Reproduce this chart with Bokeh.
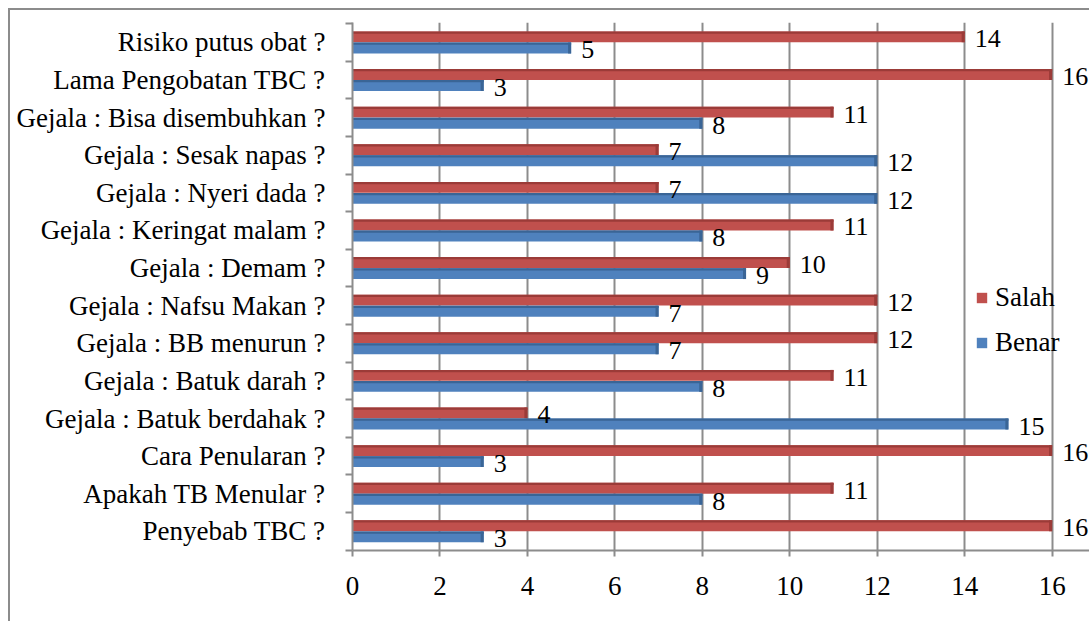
from bokeh.plotting import figure
from bokeh.models import Range1d, FixedTicker, Legend, LegendItem, ColumnDataSource, Spacer
from bokeh.layouts import column, row
from bokeh.embed import file_html
from bokeh.resources import INLINE

# Data (top to bottom as in the chart)
categories = [
    "Risiko putus obat ?",
    "Lama Pengobatan TBC ?",
    "Gejala : Bisa disembuhkan ?",
    "Gejala : Sesak napas ?",
    "Gejala : Nyeri dada ?",
    "Gejala : Keringat malam ?",
    "Gejala : Demam ?",
    "Gejala : Nafsu Makan ?",
    "Gejala : BB menurun ?",
    "Gejala : Batuk darah ?",
    "Gejala : Batuk berdahak ?",
    "Cara Penularan ?",
    "Apakah TB Menular ?",
    "Penyebab TBC ?",
]
salah = [14, 16, 11, 7, 7, 11, 10, 12, 12, 11, 4, 16, 11, 16]
benar = [5, 3, 8, 12, 12, 8, 9, 7, 7, 8, 15, 3, 8, 3]
x_ticks = [0, 2, 4, 6, 8, 10, 12, 14, 16]

RED = "#C0504D"
RED_D = "#9B3B38"
BLUE = "#4F81BD"
BLUE_D = "#3A6596"
GRID = "#8c8c8c"
FONT = "Liberation Serif"
FS = "27px"
FS_VAL = "26px"

n = len(categories)
# bottom category gets index 0
ypos = [n - 1 - i for i in range(n)]

off = 0.147
h = 0.29
src = ColumnDataSource(dict(
    y=ypos,
    ys=[y + off for y in ypos],
    yb=[y - off for y in ypos],
    ys_top=[y + off + h / 2 - 0.03 for y in ypos],
    yb_top=[y - off + h / 2 - 0.03 for y in ypos],
    salah=salah,
    benar=benar,
    salah_c=[v - 0.07 for v in salah],
    benar_c=[v - 0.07 for v in benar],
    salah_t=[str(v) for v in salah],
    benar_t=[str(v) for v in benar],
))

p = figure(width=1081, height=613, output_backend="svg", toolbar_location=None,
           x_range=Range1d(0, 16.9), y_range=Range1d(-0.51, 13.53),
           min_border_left=342, min_border_top=12, min_border_bottom=73,
           min_border_right=0)
p.styles = {"border-left": "2px solid #8c8c8c", "border-top": "2px solid #8c8c8c"}
p.outline_line_color = None
p.background_fill_color = "white"
p.border_fill_color = "white"

# bars
r_s = p.hbar(y="ys", left=0, right="salah", height=h, source=src,
             fill_color=RED, line_color=None)
p.hbar(y="ys_top", left=0, right="salah", height=0.06, source=src,
       fill_color=RED_D, line_color=None)
p.hbar(y="ys", left="salah_c", right="salah", height=h, source=src,
       fill_color=RED_D, line_color=None)
r_b = p.hbar(y="yb", left=0, right="benar", height=h, source=src,
             fill_color=BLUE, line_color=None)
p.hbar(y="yb_top", left=0, right="benar", height=0.06, source=src,
       fill_color=BLUE_D, line_color=None)
p.hbar(y="yb", left="benar_c", right="benar", height=h, source=src,
       fill_color=BLUE_D, line_color=None)

# value labels
p.text(x="salah", y="ys", text="salah_t", source=src, x_offset=10, y_offset=2,
       text_font={"value": FONT}, text_font_size=FS_VAL,
       text_baseline="middle", text_align="left", text_color="black")
p.text(x="benar", y="yb", text="benar_t", source=src, x_offset=10, y_offset=2,
       text_font={"value": FONT}, text_font_size=FS_VAL,
       text_baseline="middle", text_align="left", text_color="black")

# axes
p.xaxis.ticker = FixedTicker(ticks=x_ticks)
p.xaxis.axis_line_color = GRID
p.xaxis.axis_line_width = 2
p.xaxis.major_tick_line_color = GRID
p.xaxis.major_tick_line_width = 2
p.xaxis.major_tick_out = 6
p.xaxis.major_tick_in = 0
p.xaxis.minor_tick_line_color = None
p.xaxis.major_label_text_font = FONT
p.xaxis.major_label_text_font_size = FS
p.xaxis.major_label_text_color = "black"
p.xaxis.major_label_standoff = 20

p.yaxis.ticker = FixedTicker(ticks=ypos, minor_ticks=[i - 0.5 for i in range(n + 1)])
p.yaxis.major_label_overrides = {y: c for y, c in zip(ypos, categories)}
p.yaxis.axis_line_color = GRID
p.yaxis.axis_line_width = 2
p.yaxis.major_tick_line_color = None
p.yaxis.major_tick_out = 0
p.yaxis.major_tick_in = 0
p.yaxis.minor_tick_line_color = GRID
p.yaxis.minor_tick_line_width = 2
p.yaxis.minor_tick_out = 7
p.yaxis.minor_tick_in = 0
p.yaxis.major_label_text_font = FONT
p.yaxis.major_label_text_font_size = FS
p.yaxis.major_label_text_color = "black"
p.yaxis.major_label_standoff = 20

p.xgrid.ticker = FixedTicker(ticks=x_ticks)
p.xgrid.grid_line_color = GRID
p.xgrid.grid_line_width = 2
p.ygrid.grid_line_color = None

legend = Legend(items=[LegendItem(label="Salah", renderers=[r_s]),
                       LegendItem(label="Benar", renderers=[r_b])],
                location=(623, 192), orientation="vertical",
                glyph_width=13, glyph_height=13, label_standoff=7,
                spacing=14, padding=0, margin=0,
                background_fill_alpha=0, border_line_color=None,
                label_text_font=FONT, label_text_font_size=FS,
                label_text_color="black")
p.add_layout(legend)

layout = column(Spacer(height=8, width=1089),
                row(Spacer(width=8, height=613), p))

open("out.html", "w").write(file_html(layout, INLINE))
